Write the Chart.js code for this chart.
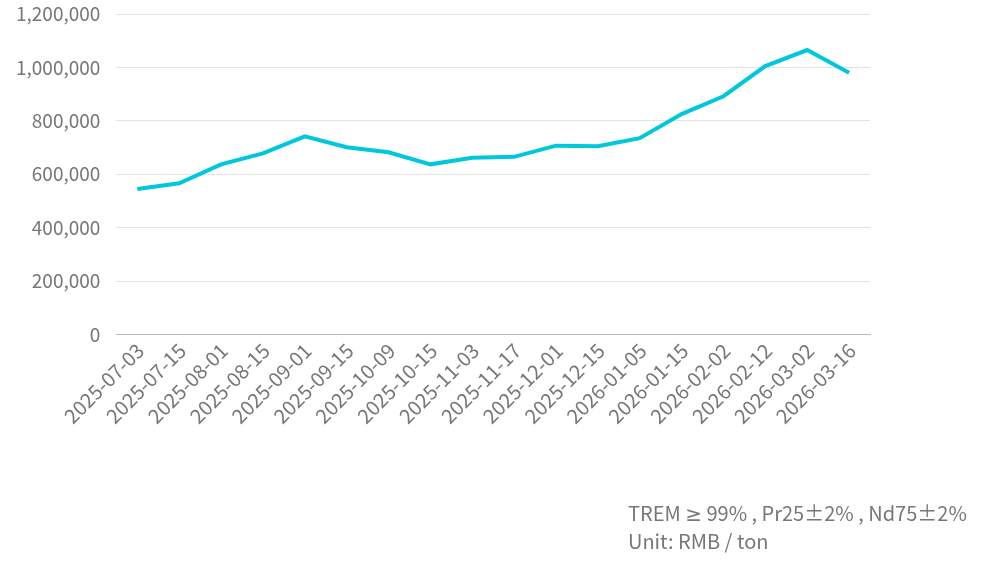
<!DOCTYPE html>
<html>
<head>
<meta charset="utf-8">
<script src="https://cdn.jsdelivr.net/npm/chart.js@4"></script>
<style>
  html, body { margin: 0; padding: 0; background: #fff; }
  #wrap { position: relative; width: 989px; height: 571px; }
  #note {
    position: absolute; left: 628px; top: 499px;
    font-family: "Noto Sans CJK SC", "Noto Sans", sans-serif;
    font-size: 20px; line-height: 27px; color: #777;
  }
  #note .sym { font-family: "Noto Sans", "DejaVu Sans", sans-serif; }
</style>
</head>
<body>
<div id="wrap">
  <canvas id="priceChart" width="989" height="571"></canvas>
  <div id="note">TREM <span class="sym">≥</span> 99% , Pr25±2% , Nd75±2%<br>Unit: RMB / ton</div>
</div>
<script>
const dates = [
    '2025-07-03', '2025-07-15', '2025-08-01', '2025-08-15', '2025-09-01', '2025-09-15',
    '2025-10-09', '2025-10-15', '2025-11-03', '2025-11-17', '2025-12-01', '2025-12-15',
    '2026-01-05', '2026-01-15', '2026-02-02', '2026-02-12', '2026-03-02', '2026-03-16'
];
const prices = [
    545000, 566000, 637000, 678000, 742000, 701000,
    682000, 637000, 662000, 665000, 707000, 705000,
    735000, 825000, 892000, 1005000, 1065000, 980000
];

document.addEventListener("DOMContentLoaded", () => {
    const ctx = document.getElementById('priceChart');
    new Chart(ctx, {
        type: 'line',
        data: {
            labels: dates,
            datasets: [{
                data: prices,
                borderColor: '#00c8dc',
                borderWidth: 4,
                pointRadius: 0,
                tension: 0,
                fill: false
            }]
        },
        options: {
            responsive: false,
            animation: false,
            layout: { padding: { left: 0, right: 119, top: 14, bottom: 139 } },
            plugins: { legend: { display: false }, tooltip: { enabled: false } },
            scales: {
                x: {
                    offset: true,
                    grid: { display: false, drawTicks: false },
                    border: { color: '#bbbbbb', width: 1 },
                    ticks: {
                        color: '#777',
                        font: { family: '"Noto Sans CJK SC", "Noto Sans", sans-serif', size: 20 },
                        maxRotation: 45, minRotation: 45,
                        autoSkip: false,
                        labelOffset: 3,
                        padding: 4
                    }
                },
                y: {
                    min: 0, max: 1200000,
                    grid: { color: '#e3e3e3', drawTicks: false },
                    border: { display: false },
                    afterFit: scale => { scale.paddingTop = 0; },
                    ticks: {
                        stepSize: 200000,
                        color: '#777',
                        padding: 16,
                        font: { family: '"Noto Sans CJK SC", "Noto Sans", sans-serif', size: 19 },
                        callback: v => v.toLocaleString('en-US')
                    }
                }
            }
        }
    });
});
</script>
</body>
</html>
